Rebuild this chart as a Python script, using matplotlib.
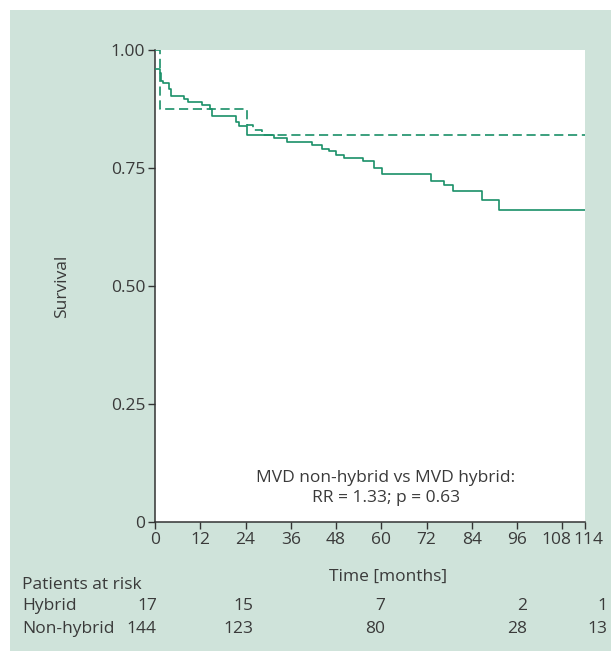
import matplotlib
matplotlib.use("Agg")
import matplotlib.pyplot as plt
from matplotlib.patches import Rectangle
import matplotlib.transforms as mtransforms

# ---- data ----
nonhybrid_t = [0, 1.3, 1.6, 2.2, 3.7, 4.3, 7.8, 8.7, 12.4, 14.6, 15.1, 21.4, 22.3, 24.3,
               31.6, 34.9, 41.6, 44.4, 46.0, 48.0, 50.1, 55.2, 58.0, 60.2, 73.1, 76.7,
               78.9, 86.8, 91.1, 114]
nonhybrid_s = [0.959, 0.952, 0.935, 0.931, 0.917, 0.903, 0.897, 0.889, 0.883, 0.875, 0.860,
               0.847, 0.840, 0.819, 0.814, 0.806, 0.798, 0.791, 0.785, 0.778, 0.771, 0.765,
               0.749, 0.737, 0.722, 0.713, 0.702, 0.682, 0.661, 0.661]
hybrid_t = [0, 1.3, 24.3, 26.1, 28.4, 114]
hybrid_s = [1.0, 0.875, 0.841, 0.830, 0.820, 0.820]

x_ticks = [0, 12, 24, 36, 48, 60, 72, 84, 96, 108, 114]
y_ticks = [0, 0.25, 0.50, 0.75, 1.00]
y_ticklabels = ["0", "0.25", "0.50", "0.75", "1.00"]

risk_labels = ["Hybrid", "Non-hybrid"]
risk_hybrid = [17, 15, 7, 2, 1]
risk_nonhybrid = [144, 123, 80, 28, 13]
risk_x = [0.5, 26, 61, 98.6, 120]   # right edges of the columns (time units)

annotation = "MVD non-hybrid vs MVD hybrid:\nRR = 1.33; p = 0.63"

# ---- style ----
W, H = 611, 651
DPI = 100
BG = "#cfe3da"
GREEN = "#1a9068"
TXT = "#3a3a3a"
FS = 12.5
plt.rcParams["font.family"] = ["Open Sans", "DejaVu Sans"]

fig = plt.figure(figsize=(W / DPI, H / DPI), dpi=DPI, facecolor="white")
fig.patches.append(Rectangle((10 / W, 0), 1 - 10 / W, 1 - 10 / H, transform=fig.transFigure,
                             facecolor=BG, edgecolor="none", zorder=-10))

def fx(px):
    return px / W

def fy(py):
    return 1 - py / H

AX_L, AX_R, AX_T, AX_B = 155, 585, 50, 522
ax = fig.add_axes([fx(AX_L), fy(AX_B), fx(AX_R) - fx(AX_L), fy(AX_T) - fy(AX_B)])
ax.set_facecolor("white")
ax.set_xlim(0, 114)
ax.set_ylim(0, 1.0)

ax.step(nonhybrid_t, nonhybrid_s, where="post", color=GREEN, lw=1.2, zorder=3)
ax.step(hybrid_t, hybrid_s, where="post", color=GREEN, lw=1.2, ls=(0, (5.5, 2.8)), zorder=3)

for sp in ["top", "right"]:
    ax.spines[sp].set_visible(False)
for sp in ["left", "bottom"]:
    ax.spines[sp].set_color("#333333")
    ax.spines[sp].set_linewidth(1.1)

ax.set_xticks(x_ticks)
ax.set_xticklabels([str(t) for t in x_ticks])
ax.set_yticks(y_ticks)
ax.set_yticklabels(y_ticklabels)
ax.tick_params(axis="both", direction="out", length=5, width=1.0, color="#333333",
               labelcolor=TXT, labelsize=FS, pad=2)

# nudge the two crowded last x tick labels apart, as in the reference
xlabels = ax.get_xticklabels()
xlabels[-2].set_transform(xlabels[-2].get_transform() +
                          mtransforms.ScaledTranslation(-6 / DPI, 0, fig.dpi_scale_trans))
xlabels[-1].set_transform(xlabels[-1].get_transform() +
                          mtransforms.ScaledTranslation(3 / DPI, 0, fig.dpi_scale_trans))

ax.set_ylabel("Survival", fontsize=FS, color=TXT)
ax.yaxis.set_label_coords((70 - AX_L) / (AX_R - AX_L), 0.5)

fig.text(fx(388), fy(577), "Time [months]", ha="center", va="center", fontsize=FS, color=TXT)

ax.text((386 - AX_L) / (AX_R - AX_L) * 114, (AX_B - 488) / (AX_B - AX_T), annotation,
        ha="center", va="center", fontsize=FS, color=TXT, linespacing=1.25)

fig.text(fx(22), fy(585), "Patients at risk", ha="left", va="center", fontsize=FS, color=TXT)
row_y = [fy(606), fy(629)]
for lab, yy in zip(risk_labels, row_y):
    fig.text(fx(22), yy, lab, ha="left", va="center", fontsize=FS, color=TXT)

trans = mtransforms.blended_transform_factory(ax.transData, fig.transFigure)
for xv, a, b in zip(risk_x, risk_hybrid, risk_nonhybrid):
    ax.text(xv, row_y[0], str(a), transform=trans, ha="right", va="center",
            fontsize=FS, color=TXT, clip_on=False)
    ax.text(xv, row_y[1], str(b), transform=trans, ha="right", va="center",
            fontsize=FS, color=TXT, clip_on=False)

fig.savefig("out.png", dpi=DPI, facecolor="white")
